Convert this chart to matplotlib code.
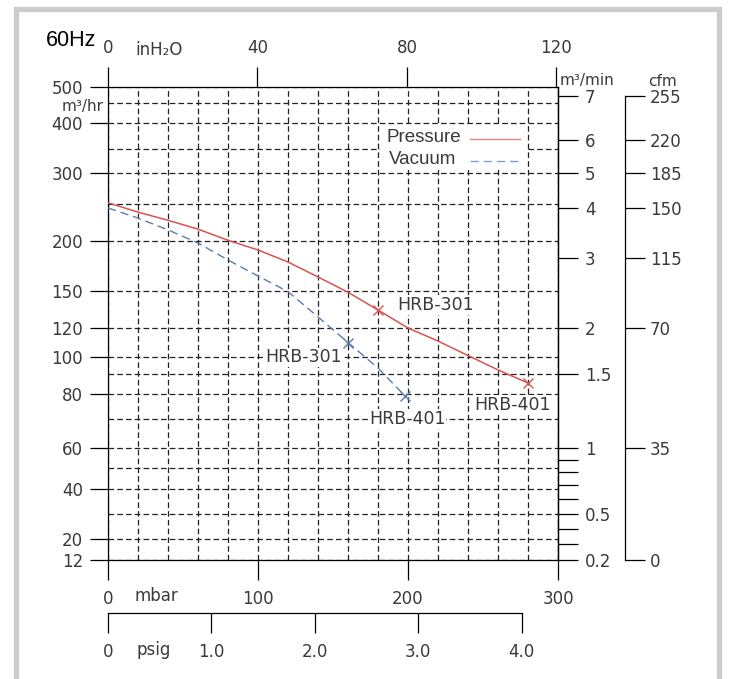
import numpy as np
import matplotlib
matplotlib.use('Agg')
import matplotlib.pyplot as plt
from matplotlib.patches import Rectangle
from matplotlib.lines import Line2D

plt.rcParams['font.family'] = ['DejaVu Sans']

# ---------------- data ----------------
mbar_pressure = [0, 20, 40, 60, 80, 100, 120, 140, 160, 180, 200, 220, 240, 260, 280]
flow_pressure = [252, 239, 228, 216, 201, 191, 179, 164, 149, 134.6, 120, 111, 101, 92.4, 85.5]
mbar_vacuum = [0, 20, 40, 60, 80, 100, 120, 140, 160, 180, 198]
flow_vacuum = [244.6, 231, 215, 198, 181, 165, 149.5, 129, 110, 93.5, 79.2]

models = ['HRB-301', 'HRB-401']
pressure_pt_mbar = [180, 280]
pressure_pt_flow = [134.6, 85.5]
vacuum_pt_mbar = [160, 198]
vacuum_pt_flow = [110, 79.2]

series_names = ['Pressure', 'Vacuum']

flow_ticks = [12, 20, 40, 60, 80, 100, 120, 150, 200, 300, 400, 500]
flow_minor = [30, 50, 70, 90, 250, 350, 450]
mbar_ticks = [0, 100, 200, 300]
mbar_grid = list(range(20, 300, 20))
inh2o_ticks = [0, 40, 80, 120]
psig_ticks = [0, 1.0, 2.0, 3.0, 4.0]
psig_labels = ['0', '1.0', '2.0', '3.0', '4.0']

cmm_labels = ['7', '6', '5', '4', '3', '2', '1.5', '1', '0.5', '0.2']
cmm_flow = [472, 367, 300, 245, 183, 120, 90, 60, 30, 12]
cmm_minor_flow = [54, 48, 42, 36, 24, 18]
cfm_labels = ['255', '220', '185', '150', '115', '70', '35', '0']
cfm_flow = [472, 367, 300, 245, 183, 120, 60, 12]

# The chart's non-uniform flow scale (value -> drawn height)
scale_vals = [0, 12, 20, 30, 40, 50, 60, 70, 80, 90, 100, 120, 150, 200, 250, 300, 350, 400, 450, 500, 1000]
scale_pos = [-30, 0, 21, 46, 71, 92, 112, 141, 166, 186, 203, 232, 269, 319, 356, 387, 411, 437, 457, 473, 630]


def fwd(v):
    return np.interp(v, scale_vals, scale_pos)


def inv(p):
    return np.interp(p, scale_pos, scale_vals)


MBAR_PER_INH2O = 2.491
MBAR_PER_PSI = 68.95

W, H = 731, 679
fig = plt.figure(figsize=(W / 100, H / 100), dpi=100)
fig.patch.set_facecolor('white')


def fx(px):
    return px / W


def fy(py):
    return 1 - py / H


ax = fig.add_axes([fx(108), fy(560), 450 / W, 473 / H])
ax.set_yscale('function', functions=(fwd, inv))
ax.set_xlim(0, 300)
ax.set_ylim(12, 500)

txt_color = '#3a3a3a'
tick_fs = 12
unit_fs = 11
spine_lw = 0.9

for s in ax.spines.values():
    s.set_linewidth(spine_lw)
    s.set_color('black')

ax.set_xticks(mbar_ticks)
ax.set_xticklabels(['0', '100', '200', '300'])
ax.set_xticks(mbar_grid, minor=True)
ax.set_yticks(flow_ticks)
ax.set_yticklabels([str(v) for v in flow_ticks])
ax.set_yticks(flow_minor, minor=True)
ax.tick_params(axis='x', which='major', direction='out', length=14.4, width=spine_lw,
               pad=7, labelsize=tick_fs, labelcolor=txt_color)
ax.tick_params(axis='y', which='major', direction='out', length=13, width=spine_lw,
               pad=5, labelsize=tick_fs, labelcolor=txt_color)
ax.tick_params(which='minor', length=0)

grid_kw = dict(color='#222222', linewidth=0.9, linestyle=(0, (4.5, 2.5)))
ax.grid(True, which='both', axis='both', **grid_kw)
ax.set_axisbelow(True)

# curves
red = '#d9534f'
blue = '#5b7db1'
blue_ls = (0, (6, 3.5))
ax.plot(mbar_pressure, flow_pressure, color=red, lw=1.1, zorder=3)
ax.plot(mbar_vacuum, flow_vacuum, color=blue, lw=1.0, linestyle=blue_ls, zorder=3)
ax.plot(pressure_pt_mbar, pressure_pt_flow, linestyle='none', marker='x', ms=7,
        mew=1.0, color=red, zorder=4)
ax.plot(vacuum_pt_mbar, vacuum_pt_flow, linestyle='none', marker='x', ms=7,
        mew=1.0, color=blue, zorder=4)

lab_fs = 12.5
bbox = dict(facecolor='white', edgecolor='none', pad=0.5)
ax.annotate(models[0], (pressure_pt_mbar[0], pressure_pt_flow[0]), xytext=(13.7, 3.6),
            textcoords='offset points', ha='left', va='center', fontsize=lab_fs,
            color=txt_color, bbox=bbox, zorder=5)
ax.annotate(models[1], (pressure_pt_mbar[1], pressure_pt_flow[1]), xytext=(-11.5, -15.8),
            textcoords='offset points', ha='center', va='center', fontsize=lab_fs,
            color=txt_color, bbox=bbox, zorder=5)
ax.annotate(models[0], (vacuum_pt_mbar[0], vacuum_pt_flow[0]), xytext=(-4.3, -10.8),
            textcoords='offset points', ha='right', va='center', fontsize=lab_fs,
            color=txt_color, bbox=bbox, zorder=5)
ax.annotate(models[1], (vacuum_pt_mbar[1], vacuum_pt_flow[1]), xytext=(1.5, -16.5),
            textcoords='offset points', ha='center', va='center', fontsize=lab_fs,
            color=txt_color, bbox=bbox, zorder=5)

# legend (text first, line after, on a white patch)
leg_box = Rectangle((fx(380), fy(170)), fx(527 - 380), (170 - 125) / H,
                    transform=fig.transFigure, facecolor='white', edgecolor='none',
                    zorder=5)
fig.patches.append(leg_box)
leg_font = dict(family='Liberation Sans', fontsize=13.5, color=txt_color,
                ha='left', va='center', zorder=6)
fig.text(fx(387), fy(137), series_names[0], **leg_font)
fig.text(fx(389), fy(160), series_names[1], **leg_font)
fig.lines.append(Line2D([fx(470), fx(520)], [fy(139), fy(139)], transform=fig.transFigure,
                        color=red, lw=1.0, alpha=0.75, zorder=6))
fig.lines.append(Line2D([fx(470), fx(520)], [fy(161), fy(161)], transform=fig.transFigure,
                        color=blue, lw=1.0, alpha=0.75, linestyle=blue_ls, zorder=6))

# top inH2O axis
top = ax.secondary_xaxis('top', functions=(lambda m: m / MBAR_PER_INH2O,
                                           lambda i: i * MBAR_PER_INH2O))
top.set_xticks(inh2o_ticks)
top.set_xticklabels([str(v) for v in inh2o_ticks])
top.tick_params(direction='out', length=14.4, width=spine_lw, pad=7,
                labelsize=tick_fs, labelcolor=txt_color)
top.spines['top'].set_visible(False)

# psig axis
psi = ax.secondary_xaxis(-53 / 473, functions=(lambda m: m / MBAR_PER_PSI,
                                               lambda p: p * MBAR_PER_PSI))
psi.set_xticks(psig_ticks)
psi.set_xticklabels(psig_labels)
psi.tick_params(direction='out', length=14.4, width=spine_lw, pad=7,
                labelsize=tick_fs, labelcolor=txt_color)
psi.spines['bottom'].set_bounds(0, 4.0)
psi.spines['bottom'].set_linewidth(spine_lw)

# right m3/min axis
ax2 = ax.twinx()
ax2.set_yscale('function', functions=(fwd, inv))
ax2.set_ylim(12, 500)
for k in ['left', 'top', 'bottom']:
    ax2.spines[k].set_visible(False)
ax2.spines['right'].set_linewidth(spine_lw)
ax2.set_yticks(cmm_flow)
ax2.set_yticklabels(cmm_labels)
ax2.set_yticks(cmm_minor_flow, minor=True)
ax2.yaxis.set_minor_formatter(matplotlib.ticker.NullFormatter())
ax2.tick_params(axis='y', which='both', direction='out', length=14.4, width=spine_lw,
                pad=5, labelsize=tick_fs, labelcolor=txt_color)

# cfm axis
ax3 = ax.twinx()
ax3.set_yscale('function', functions=(fwd, inv))
ax3.set_ylim(12, 500)
for k in ['left', 'top', 'bottom']:
    ax3.spines[k].set_visible(False)
ax3.spines['right'].set_position(('axes', (625 - 108) / 450))
ax3.spines['right'].set_bounds(12, 472)
ax3.spines['right'].set_linewidth(spine_lw)
ax3.set_yticks(cfm_flow)
ax3.set_yticklabels(cfm_labels)
ax3.yaxis.set_minor_locator(matplotlib.ticker.NullLocator())
ax3.tick_params(axis='y', which='major', direction='out', length=14.4, width=spine_lw,
                pad=3.6, labelsize=tick_fs, labelcolor=txt_color)

# axis unit labels
fig.text(fx(46), fy(40), '60Hz', family='Liberation Sans', fontsize=15.5,
         color='black', ha='left', va='center')
fig.text(fx(135), fy(50), 'inH₂O', fontsize=tick_fs, color=txt_color,
         ha='left', va='center')
fig.text(fx(104), fy(106), 'm³/hr', fontsize=unit_fs, color=txt_color,
         ha='right', va='center')
fig.text(fx(560), fy(81), 'm³/min', fontsize=unit_fs, color=txt_color,
         ha='left', va='center')
fig.text(fx(648), fy(81), 'cfm', fontsize=unit_fs, color=txt_color,
         ha='left', va='center')
fig.text(fx(135), fy(596), 'mbar', fontsize=tick_fs, color=txt_color,
         ha='left', va='center')
fig.text(fx(137), fy(650), 'psig', fontsize=tick_fs, color=txt_color,
         ha='left', va='center')

# outer light-gray frame
frame = Rectangle((fx(15.5), -0.05), fx(719 - 15.5), fy(8.5) + 0.05,
                  transform=fig.transFigure, fill=False, edgecolor='#cccccc',
                  linewidth=3.8, zorder=0)
fig.patches.append(frame)

fig.savefig('out.png', dpi=100)
